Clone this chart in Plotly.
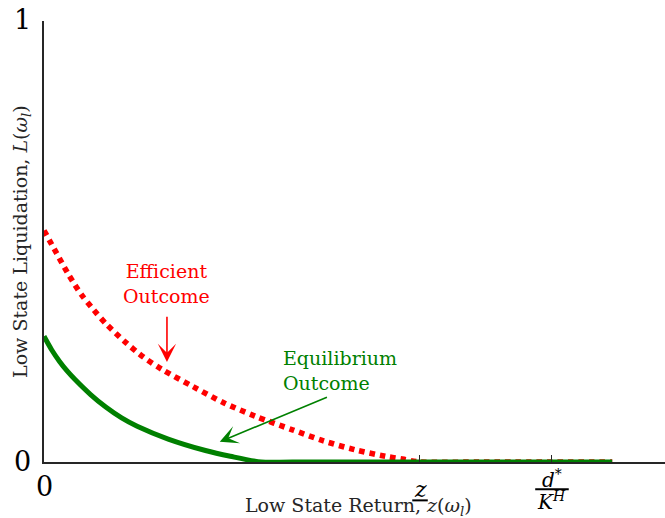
import plotly.graph_objects as go

# ---- data ----
eff_x = [0.0, 0.02, 0.04, 0.06, 0.08, 0.10, 0.13, 0.16, 0.19, 0.24, 0.29, 0.34, 0.40, 0.45, 0.50, 0.55, 0.58, 0.605, 0.70, 0.915]
eff_y = [0.525, 0.474, 0.424, 0.380, 0.345, 0.313, 0.273, 0.238, 0.210, 0.171, 0.134, 0.104, 0.073, 0.048, 0.028, 0.013, 0.006, 0.0, 0.0, 0.0]

eq_x = [0.0, 0.0125, 0.025, 0.0375, 0.05, 0.075, 0.10, 0.125, 0.15, 0.20, 0.26, 0.30, 0.35, 0.40, 0.915]
eq_y = [0.285, 0.254, 0.228, 0.206, 0.187, 0.153, 0.124, 0.100, 0.081, 0.052, 0.026, 0.013, 0.0, 0.0, 0.0]

x_range = [0.0, 1.0]
y_range = [0.0, 1.0]

z_low = 0.605          # underline-z tick
d_over_k = 0.818       # d*/K^H tick
x_tick_vals = [z_low, d_over_k]
y_tick_vals = [0.0, 1.0]
y_tick_labels = ["0", "1"]
x_zero_label = "0"

eff_label = "Efficient<br>Outcome"
eq_label = "Equilibrium<br>Outcome"
x_title = "Low State Return, <i>z</i>(<i>ω<sub>l</sub></i>)"
y_title = "Low State Liquidation, <i>L</i>(<i>ω<sub>l</sub></i>)"

FONT = "DejaVu Serif"
RED = "#ff0000"
GREEN = "#008000"
AXC = "#262626"

fig = go.Figure()
fig.add_trace(go.Scatter(x=eff_x, y=eff_y, mode="lines",
                         line=dict(color=RED, width=5.6, dash="5.5px,5px", shape="spline", smoothing=0.8),
                         hoverinfo="skip", showlegend=False))
fig.add_trace(go.Scatter(x=eq_x, y=eq_y, mode="lines",
                         line=dict(color=GREEN, width=5, shape="spline", smoothing=0.8),
                         hoverinfo="skip", showlegend=False))

def px(v):
    return (v - x_range[0]) / (x_range[1] - x_range[0])

ann = []
# y tick labels
for v, t in zip(y_tick_vals, y_tick_labels):
    ann.append(dict(x=0, y=v, xref="x", yref="y", text=t, showarrow=False,
                    xanchor="right", yanchor="middle", xshift=-11, yshift=1 if v == 0 else 2,
                    font=dict(family=FONT, size=27, color="black")))
# x zero label
ann.append(dict(x=0, y=0, xref="x", yref="paper", text=x_zero_label, showarrow=False,
                xanchor="center", yanchor="middle", yshift=-24,
                font=dict(family=FONT, size=27, color="black")))
# z underline label
ann.append(dict(x=z_low, y=0, xref="x", yref="paper", text="<i>z</i>", showarrow=False,
                xanchor="center", yanchor="middle", yshift=-27, xshift=1,
                font=dict(family=FONT, size=22, color="black")))
# d*/K^H
ann.append(dict(x=d_over_k, y=0, xref="x", yref="paper", text="<i>d</i><sup>*</sup>", showarrow=False,
                xanchor="center", yanchor="middle", yshift=-17, xshift=0,
                font=dict(family=FONT, size=20, color="black")))
ann.append(dict(x=d_over_k, y=0, xref="x", yref="paper", text="<i>K</i><sup><i>H</i></sup>", showarrow=False,
                xanchor="center", yanchor="middle", yshift=-39, xshift=0,
                font=dict(family=FONT, size=20, color="black")))
# axis titles
ann.append(dict(x=0.507, y=0, xref="paper", yref="paper", text=x_title, showarrow=False,
                xanchor="center", yanchor="middle", yshift=-44,
                font=dict(family=FONT, size=19, color="#262626")))
ann.append(dict(x=0, y=0.499, xref="paper", yref="paper", text=y_title, showarrow=False,
                xanchor="center", yanchor="middle", xshift=-22, textangle=-90,
                font=dict(family=FONT, size=19, color="#262626")))
# curve labels
ann.append(dict(x=0.198, y=0.405, xref="x", yref="y", text=eff_label, showarrow=False,
                xanchor="center", yanchor="middle", align="center",
                font=dict(family=FONT, size=19, color=RED)))
ann.append(dict(x=0.382, y=0.208, xref="x", yref="y", text=eq_label, showarrow=False,
                xanchor="left", yanchor="middle", align="left",
                font=dict(family=FONT, size=19, color=GREEN)))
# arrows
ann.append(dict(x=0.198, y=0.227, ax=0.198, ay=0.333, xref="x", yref="y", axref="x", ayref="y",
                text="", showarrow=True, arrowhead=3, arrowsize=1.9, arrowwidth=1.6, arrowcolor=RED, standoff=0))
ann.append(dict(x=0.283, y=0.046, ax=0.458, ay=0.148, xref="x", yref="y", axref="x", ayref="y",
                text="", showarrow=True, arrowhead=3, arrowsize=1.9, arrowwidth=1.6, arrowcolor=GREEN, standoff=0))

shapes = [
    # underline of z
    dict(type="line", xref="paper", yref="paper", x0=px(z_low) - 0.012, x1=px(z_low) + 0.013,
         y0=-0.087, y1=-0.087, line=dict(color="black", width=2)),
    # fraction bar
    dict(type="line", xref="paper", yref="paper", x0=px(d_over_k) - 0.027, x1=px(d_over_k) + 0.027,
         y0=-0.062, y1=-0.062, line=dict(color="black", width=2)),
]

fig.update_layout(
    width=665, height=518,
    margin=dict(l=44, r=0, t=21, b=56),
    paper_bgcolor="white", plot_bgcolor="white",
    annotations=ann, shapes=shapes,
    xaxis=dict(range=x_range, showgrid=False, zeroline=False, showline=True, linecolor=AXC, linewidth=1.5,
               ticks="inside", ticklen=7, tickwidth=1, tickcolor=AXC, tickvals=x_tick_vals,
               showticklabels=False, fixedrange=True),
    yaxis=dict(range=y_range, showgrid=False, zeroline=False, showline=True, linecolor=AXC, linewidth=1.5,
               ticks="inside", ticklen=7, tickwidth=1.5, tickcolor=AXC, tickvals=y_tick_vals,
               showticklabels=False, fixedrange=True),
)
fig.write_html("out.html", config={"displayModeBar": False},
               post_script="document.body.style.margin='0';document.body.style.padding='0';document.body.style.overflow='hidden';")
